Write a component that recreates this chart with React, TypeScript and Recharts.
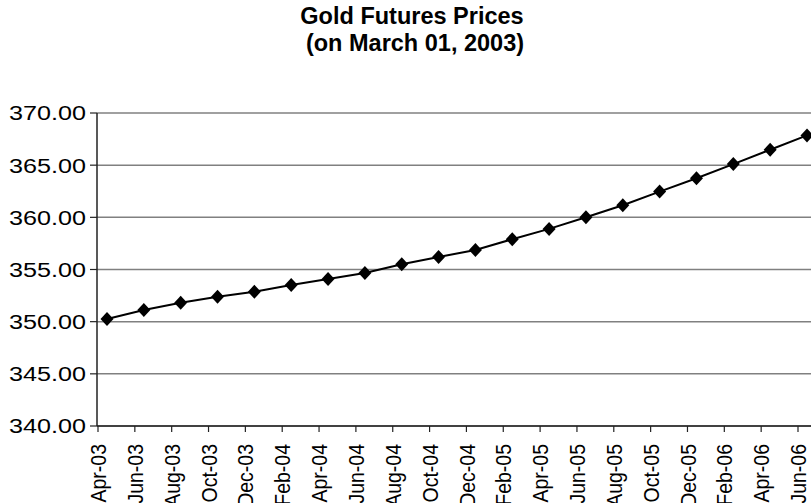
import React from 'react';
import { LineChart, Line, XAxis, YAxis, CartesianGrid } from 'recharts';

const categories = [
  'Apr-03', 'Jun-03', 'Aug-03', 'Oct-03', 'Dec-03', 'Feb-04', 'Apr-04', 'Jun-04', 'Aug-04', 'Oct-04',
  'Dec-04', 'Feb-05', 'Apr-05', 'Jun-05', 'Aug-05', 'Oct-05', 'Dec-05', 'Feb-06', 'Apr-06', 'Jun-06',
];
const prices = [
  350.25, 351.11, 351.81, 352.39, 352.87, 353.51, 354.09, 354.66, 355.5, 356.2,
  356.87, 357.9, 358.89, 360.01, 361.16, 362.47, 363.75, 365.1, 366.48, 367.85,
];
const yTicks = [340, 345, 350, 355, 360, 365, 370];
const titleLines = ['Gold Futures Prices', '(on March 01, 2003)'];

const data = categories.map((month, i) => ({ month, price: prices[i] }));

const FONT = '"Liberation Sans", Arial, sans-serif';

const XTick = (props: any) => {
  const { x, y, payload } = props;
  return (
    <text
      x={0}
      y={0}
      transform={`translate(${x} ${y}) rotate(-90) scale(1 1.15)`}
      textAnchor="end"
      dy="0.36em"
      fontFamily={FONT}
      fontSize={19.5}
      fill="#000"
    >
      {payload.value}
    </text>
  );
};

const YTick = (props: any) => {
  const { x, y, payload } = props;
  return (
    <text
      x={x}
      y={y}
      textAnchor="end"
      dy="0.36em"
      fontFamily={FONT}
      fontSize={20.5}
      textLength={77}
      lengthAdjust="spacingAndGlyphs"
      fill="#000"
    >
      {Number(payload.value).toFixed(2)}
    </text>
  );
};

const Diamond = (props: any) => {
  const { cx, cy } = props;
  if (cx == null || cy == null) return null;
  const w = 6.5;
  const h = 7;
  return (
    <polygon
      points={`${cx},${cy - h} ${cx + w},${cy} ${cx},${cy + h} ${cx - w},${cy}`}
      fill="#000"
      stroke="none"
    />
  );
};

export default function App() {
  return (
    <div
      style={{
        position: 'absolute',
        left: 0,
        top: 0,
        width: 811,
        height: 503,
        overflow: 'hidden',
        background: '#fff',
      }}
    >
      <svg
        width={811}
        height={70}
        style={{ position: 'absolute', left: 0, top: 0 }}
      >
        <text x={412} y={24} textAnchor="middle" fontFamily={FONT} fontWeight="bold" fontSize={23.5} fill="#000">
          {titleLines[0]}
        </text>
        <text x={415} y={51} textAnchor="middle" fontFamily={FONT} fontWeight="bold" fontSize={23.5} fill="#000">
          {titleLines[1]}
        </text>
      </svg>
      <div style={{ position: 'absolute', left: 0, top: 0 }}>
        <LineChart
          width={830}
          height={503}
          data={data}
          margin={{ top: 113, right: 0, bottom: 0, left: 0 }}
        >
          <CartesianGrid
            xAxisId="cat"
            horizontal
            vertical={false}
            stroke="#808080"
            strokeWidth={1.5}
          />
          <XAxis
            xAxisId="cat"
            dataKey="month"
            interval={0}
            padding={{ left: 1, right: 32 }}
            tick={<XTick />}
            tickSize={6}
            tickMargin={12}
            height={77}
            axisLine={{ stroke: '#222', strokeWidth: 1.5 }}
            tickLine={{ stroke: '#222', strokeWidth: 1.2 }}
          />
          <XAxis
            xAxisId="pts"
            dataKey="month"
            hide
            padding={{ left: 10, right: 23 }}
          />
          <YAxis
            domain={[340, 370]}
            ticks={yTicks}
            interval={0}
            width={97}
            tickSize={7}
            tickMargin={4}
            tick={<YTick />}
            axisLine={{ stroke: '#222', strokeWidth: 1.5 }}
            tickLine={{ stroke: '#222', strokeWidth: 1.2 }}
            allowDataOverflow
          />
          <Line
            xAxisId="pts"
            type="linear"
            dataKey="price"
            stroke="#000"
            strokeWidth={2}
            dot={<Diamond />}
            activeDot={false}
            isAnimationActive={false}
          />
        </LineChart>
      </div>
    </div>
  );
}
